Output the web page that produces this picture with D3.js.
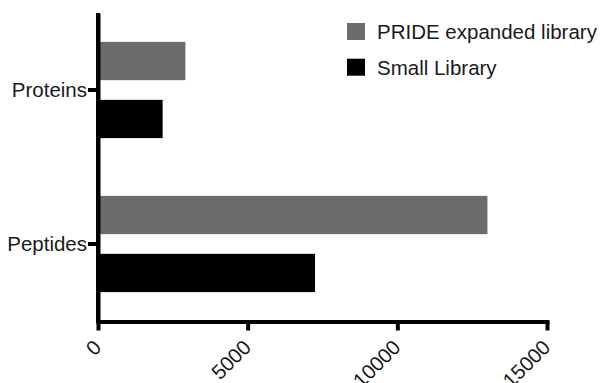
<!DOCTYPE html>
<html>
<head>
<meta charset="utf-8">
<script src="https://cdn.jsdelivr.net/npm/d3@7"></script>
<style>
  html, body { margin: 0; padding: 0; background: #fff; }
  svg { display: block; }
  text { font-family: "Liberation Sans", Arial, Helvetica, sans-serif; fill: #1a1a1a; }
</style>
</head>
<body>
<svg id="chart" width="600" height="383"></svg>
<script>
// Categories, series and values
const categories = ["Proteins", "Peptides"];
const seriesNames = ["PRIDE expanded library", "Small Library"];
const seriesColors = ["#6b6b6b", "#000000"];
const prideValues = [2920, 13010];
const smallValues = [2160, 7250];
const xTicks = [0, 5000, 10000, 15000];

const rows = categories.map((c, i) => ({
  category: c,
  values: [
    { series: seriesNames[0], value: prideValues[i] },
    { series: seriesNames[1], value: smallValues[i] }
  ]
}));

const svg = d3.select("#chart");

const x = d3.scaleLinear().domain([0, 15000]).range([98, 547]);
const y = d3.scaleBand().domain(categories).range([13, 321])
  .paddingInner(0.375).paddingOuter(0.1875);
const ySub = d3.scaleBand().domain(seriesNames).range([0, y.bandwidth()])
  .paddingInner(0.34).paddingOuter(0);
const color = d3.scaleOrdinal().domain(seriesNames).range(seriesColors);

// Bars
const groups = svg.append("g").selectAll("g")
  .data(rows).join("g")
  .attr("transform", d => `translate(0,${y(d.category)})`);

groups.selectAll("rect")
  .data(d => d.values).join("rect")
  .attr("x", x(0) + 2)
  .attr("y", d => ySub(d.series))
  .attr("width", d => x(d.value) - x(0) - 2)
  .attr("height", ySub.bandwidth())
  .attr("fill", d => color(d.series));

// Y axis
const yAxis = svg.append("g")
  .attr("transform", `translate(${x(0)},0)`)
  .call(d3.axisLeft(y).tickSize(10).tickPadding(1).tickSizeOuter(0));
yAxis.select(".domain").attr("stroke", "#000").attr("stroke-width", 4);
yAxis.selectAll(".tick line").attr("stroke", "#000").attr("stroke-width", 4);
yAxis.selectAll(".tick text")
  .style("font-size", "20.5px")
  .attr("dy", "0.36em");

// X axis
const xAxis = svg.append("g")
  .attr("transform", "translate(0,321.5)")
  .call(d3.axisBottom(x).tickValues(xTicks).tickFormat(d3.format("d"))
    .tickSize(9).tickSizeOuter(0));
xAxis.select(".domain").attr("stroke", "#000").attr("stroke-width", 4)
  .attr("stroke-linecap", "square");
xAxis.selectAll(".tick line").attr("stroke", "#000").attr("stroke-width", 4);
xAxis.selectAll(".tick text")
  .style("font-size", "20.5px")
  .attr("text-anchor", "end")
  .attr("y", 0)
  .attr("dy", "0.35em")
  .attr("transform", "translate(-1,22) rotate(-45)");

// Extend the vertical axis line up to the top of the plot
svg.append("line")
  .attr("x1", x(0)).attr("x2", x(0))
  .attr("y1", 13).attr("y2", 323)
  .attr("stroke", "#000").attr("stroke-width", 4);

// Legend
const legend = svg.append("g").attr("transform", "translate(347,23)");
const items = legend.selectAll("g").data(seriesNames).join("g")
  .attr("transform", (d, i) => `translate(0,${i * 35.7})`);
items.append("rect")
  .attr("width", 18).attr("height", 17)
  .attr("fill", d => color(d));
items.append("text")
  .attr("x", 30).attr("y", 8.5).attr("dy", "0.36em")
  .style("font-size", "20.5px")
  .text(d => d);
</script>
</body>
</html>
